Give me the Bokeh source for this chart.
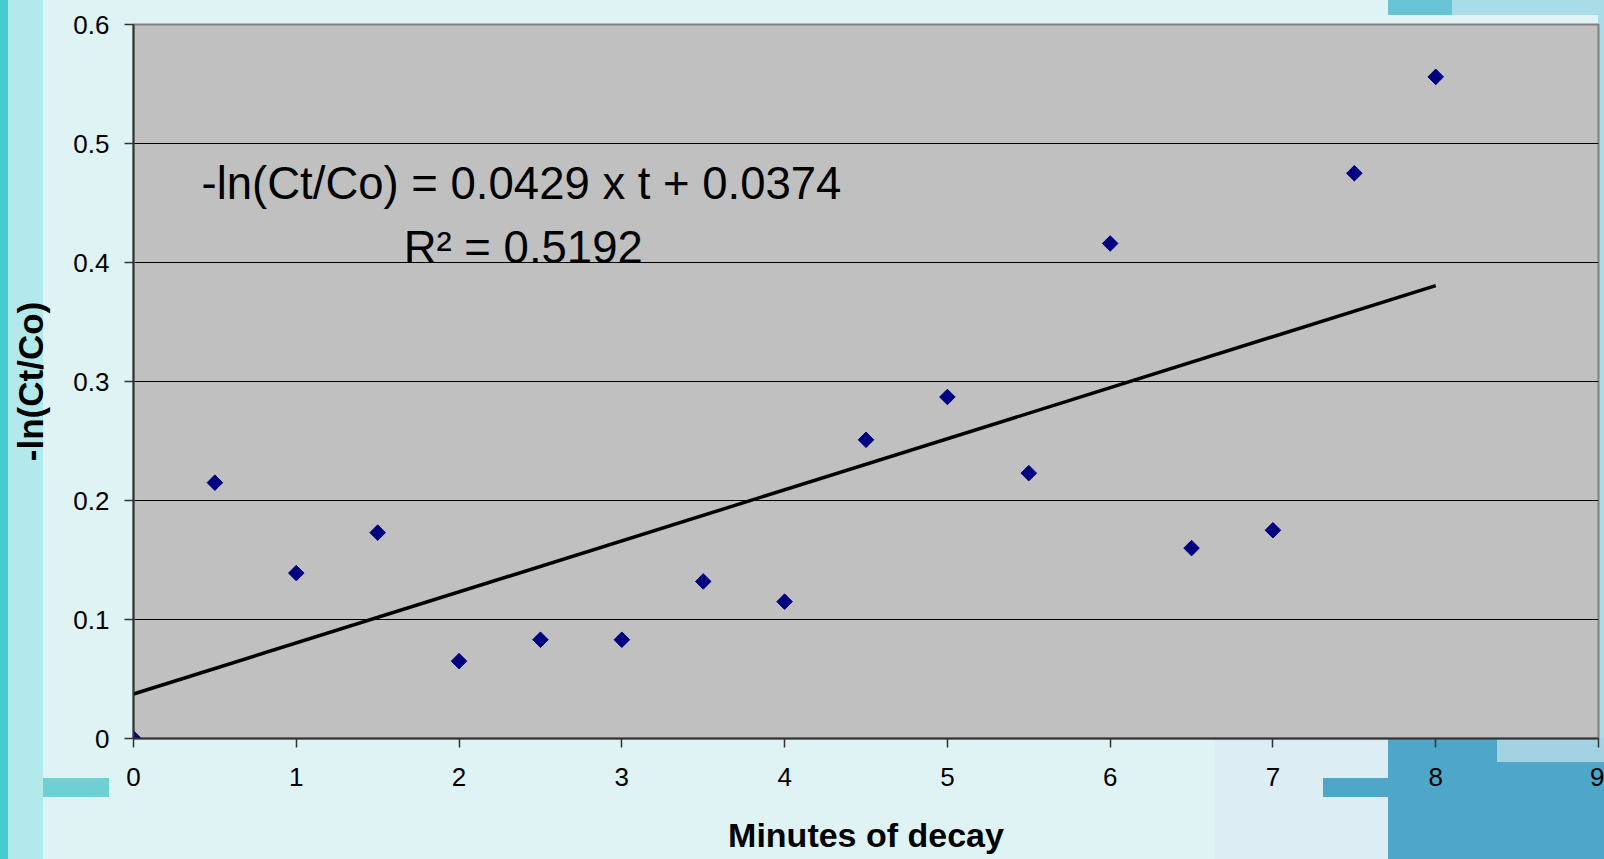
import math
from bokeh.plotting import figure
from bokeh.models import Range1d, Label, FixedTicker
from bokeh.embed import file_html
from bokeh.resources import INLINE

# ---- data ----
minutes = [0, 0.5, 1, 1.5, 2, 2.5, 3, 3.5, 4, 4.5, 5, 5.5, 6, 6.5, 7, 7.5, 8]
neg_ln_ratio = [0.0, 0.215, 0.139, 0.173, 0.065, 0.083, 0.083, 0.132, 0.115,
                0.251, 0.287, 0.223, 0.416, 0.160, 0.175, 0.475, 0.556]
slope = 0.0429
intercept = 0.0374
r_squared = 0.5192
x_ticks = [0, 1, 2, 3, 4, 5, 6, 7, 8, 9]
y_ticks = [0, 0.1, 0.2, 0.3, 0.4, 0.5, 0.6]
y_tick_labels = ["0", "0.1", "0.2", "0.3", "0.4", "0.5", "0.6"]

W, H = 1604, 859
p = figure(width=W, height=H, output_backend="svg", toolbar_location=None,
           x_range=Range1d(0, 9), y_range=Range1d(0, 0.6),
           min_border_left=133, min_border_top=24, min_border_right=6,
           min_border_bottom=121)

p.background_fill_color = "#c0c0c0"
p.border_fill_color = None
p.outline_line_color = "#808080"
p.outline_line_width = 2


# ---- decorative slide background (CSS layers behind the transparent border) ----
def layer(x, y, w, h, color):
    return f"linear-gradient({color},{color}) {x}px {y}px / {w}px {h}px no-repeat"


layers = [
    layer(0, 0, 8, H, "#45cccc"),
    layer(8, 0, 35, H, "#b2e9eb"),
    layer(43, 778, 66, 19, "#6fd0d4"),
    layer(1497, 738, 107, 24, "#a3d3e3"),
    layer(1388, 738, 216, H - 738, "#4ea6c9"),
    layer(1323, 778, 65, 19, "#4ea6c9"),
    layer(1215, 738, 173, H - 738, "#dcedf3"),
    layer(1388, 0, 64, 15, "#68c4d4"),
    layer(1452, 0, 152, 15, "#a8dce6"),
    layer(1598, 0, 6, H, "#a8dce8"),
]
p.styles = {"background": ", ".join(layers) + ", #e0f3f4"}

# ---- axes ----
for ax in (p.xaxis[0], p.yaxis[0]):
    ax.axis_line_color = "#333333"
    ax.axis_line_width = 2
    ax.major_tick_line_color = "#333333"
    ax.major_tick_line_width = 1.5
    ax.major_tick_out = 9
    ax.major_tick_in = 0
    ax.minor_tick_line_color = None
    ax.major_label_text_font = "Liberation Sans"
    ax.major_label_text_font_size = "26px"
    ax.major_label_text_color = "#000000"
    ax.axis_label_text_font = "Liberation Sans"
    ax.axis_label_text_font_style = "bold"
    ax.axis_label_text_color = "#000000"

p.xaxis.ticker = FixedTicker(ticks=x_ticks)
p.yaxis.ticker = FixedTicker(ticks=y_ticks)
p.xaxis.major_label_overrides = {t: str(t) for t in x_ticks}
p.yaxis.major_label_overrides = dict(zip(y_ticks, y_tick_labels))
p.xaxis.major_label_standoff = 20
p.yaxis.major_label_standoff = 15
p.xaxis.axis_label = "Minutes of decay"
p.xaxis.axis_label_text_font_size = "34px"
p.xaxis.axis_label_standoff = 27
p.yaxis.axis_label = "-ln(Ct/Co)"
p.yaxis.axis_label_text_font_size = "35px"
p.yaxis.axis_label_standoff = 20

p.xgrid.grid_line_color = None
p.ygrid.grid_line_color = "#000000"
p.ygrid.grid_line_width = 1

# ---- trend line ----
x_fit = [min(minutes), max(minutes)]
y_fit = [slope * x + intercept for x in x_fit]
p.line(x_fit, y_fit, line_color="#000000", line_width=3.5)

# ---- points ----
p.scatter(minutes, neg_ln_ratio, marker="square", size=11, angle=math.pi / 4,
          fill_color="#000080", line_color="#000080")

# ---- equation ----
p.add_layout(Label(x=0.418, y=0.466,
                   text=f"-ln(Ct/Co) = {slope} x t + {intercept}",
                   text_font="Liberation Sans", text_font_size="45.5px",
                   text_color="#000000", text_baseline="alphabetic"))
p.add_layout(Label(x=1.66, y=0.413, text=f"R\u00b2 = {r_squared}",
                   text_font="Liberation Sans", text_font_size="45.5px",
                   text_color="#000000", text_baseline="alphabetic"))

open("out.html", "w").write(file_html(p, INLINE))
